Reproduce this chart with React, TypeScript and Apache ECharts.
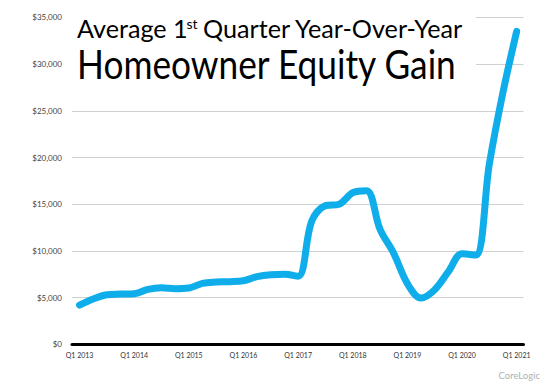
import React, { useEffect, useRef } from "react";
import * as echarts from "echarts";

const quarterIndex = [
  0, 1, 2, 3, 4, 5, 6, 7, 8, 9, 10, 11, 12, 13, 14, 15, 16,
  17, 18, 19, 20, 21, 22, 23, 24, 25, 26, 27, 28, 29, 30, 31, 32,
];
const equityGain = [
  4200, 4850, 5300, 5380, 5420, 5880, 6050, 5950, 6020, 6530, 6670, 6700,
  6810, 7240, 7450, 7500, 7280,
  13200, 14850, 15000, 16230, 16450, 12300, 9740, 6500, 4950, 5850, 7780,
  9700, 9550, 19300, 27000, 33500,
];
const yearTickIndex = [0, 4, 8, 12, 16, 20, 24, 28, 32];
const yearLabels = [
  "Q1 2013", "Q1 2014", "Q1 2015", "Q1 2016", "Q1 2017",
  "Q1 2018", "Q1 2019", "Q1 2020", "Q1 2021",
];
const yTicks = [0, 5000, 10000, 15000, 20000, 25000, 30000, 35000];

export default function App() {
  const ref = useRef<HTMLDivElement>(null);
  useEffect(() => {
    if (!ref.current) return;
    const chart = echarts.init(ref.current, undefined, { renderer: "svg" });
    const font = "Lato, 'Open Sans', sans-serif";
    chart.setOption({
      animation: false,
      backgroundColor: "#ffffff",
      grid: { left: 72, right: 26.5, top: 17.4, bottom: 44.7 },
      xAxis: {
        type: "value",
        min: -0.55,
        max: 32.5,
        axisLine: { show: true, onZero: true, lineStyle: { color: "#000", width: 3 } },
        axisTick: { show: false },
        splitLine: { show: false },
        axisLabel: {
          customValues: yearTickIndex,
          formatter: (v: number) => {
            const k = yearTickIndex.indexOf(Math.round(v));
            return k >= 0 ? yearLabels[k] : "";
          },
          fontFamily: font,
          fontSize: 7,
          color: "#333",
          margin: 7,
        },
      },
      yAxis: {
        type: "value",
        min: yTicks[0],
        max: yTicks[yTicks.length - 1],
        interval: 5000,
        axisLine: { show: false },
        axisTick: { show: false },
        splitLine: { show: true, lineStyle: { color: "#d0d0d0", width: 1 } },
        axisLabel: {
          formatter: (v: number) => "$" + v.toLocaleString("en-US"),
          fontFamily: font,
          fontSize: 8,
          color: "#444",
          margin: 10,
        },
      },
      series: [
        {
          type: "line",
          data: quarterIndex.map((q, i) => [q, equityGain[i]]),
          smooth: 0.35,
          symbol: "none",
          lineStyle: { color: "#0fadea", width: 7, cap: "round", join: "round" },
          z: 3,
        },
      ],
      graphic: [
        { type: "rect", shape: { x: 72, y: 0, width: 404, height: 100 }, style: { fill: "#ffffff" }, z: 10 },
        {
          type: "text", x: 77, y: 15, z: 11,
          style: { text: "Average 1", font: `25.2px ${font}`, fill: "#000", verticalAlign: "top", align: "left" },
        },
        {
          type: "text", x: 186.5, y: 16, z: 11,
          style: { text: "st", font: `14px ${font}`, fill: "#000", verticalAlign: "top", align: "left" },
        },
        {
          type: "text", x: 203, y: 15, z: 11,
          style: { text: "Quarter Year-Over-Year", font: `25.2px ${font}`, fill: "#000", verticalAlign: "top", align: "left" },
        },
        {
          type: "text", x: 77, y: 43, scaleY: 1.15, z: 11,
          style: { text: "Homeowner Equity Gain", font: `35.3px ${font}`, fill: "#000", verticalAlign: "top", align: "left" },
        },
        {
          type: "text", x: 540, y: 375, z: 11,
          style: { text: "CoreLogic", font: `9.5px ${font}`, fill: "#b0b0b0", verticalAlign: "middle", align: "right" },
        },
      ],
    });
    return () => chart.dispose();
  }, []);
  return <div ref={ref} style={{ width: 550, height: 389, position: "absolute", left: 0, top: 0 }} />;
}
